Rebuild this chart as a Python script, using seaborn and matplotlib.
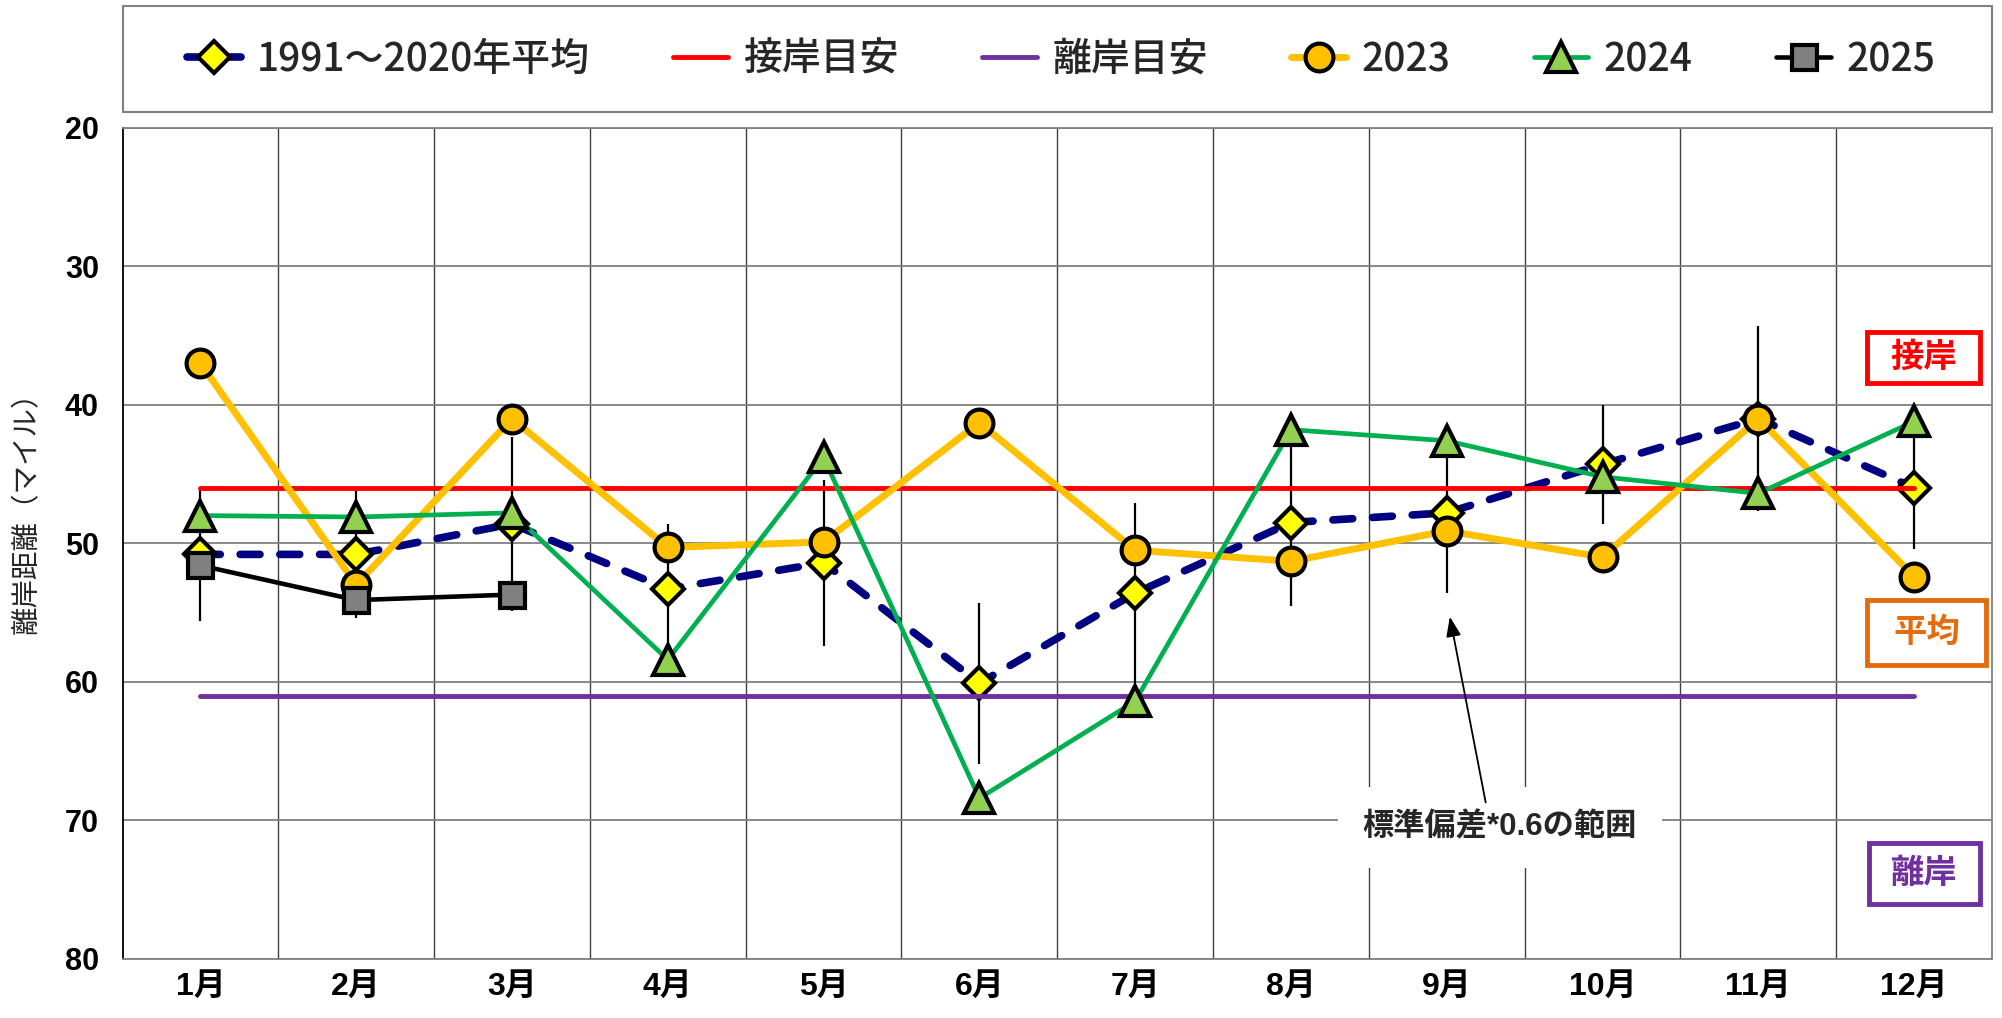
import numpy as np
import pandas as pd
import seaborn as sns
import matplotlib.pyplot as plt
from matplotlib.patches import Rectangle

# Data =========================================================================
months = ["1月", "2月", "3月", "4月", "5月", "6月", "7月", "8月", "9月", "10月", "11月", "12月"]
mean_9120 = [50.8, 50.8, 48.6, 53.3, 51.4, 60.1, 53.6, 48.5, 47.8, 44.3, 41.0, 46.0]
sd06 = [4.8, 4.6, 6.3, 4.7, 6.0, 5.8, 6.5, 6.0, 5.8, 4.3, 6.7, 4.4]  # std * 0.6
y2023 = [37.0, 53.0, 41.0, 50.3, 49.9, 41.3, 50.5, 51.3, 49.1, 51.0, 41.0, 52.4]
y2024 = [48.0, 48.1, 47.8, 58.4, 43.8, 68.4, 61.4, 41.8, 42.6, 45.2, 46.4, 41.2]
y2025 = [51.6, 54.1, 53.7]
ashore_guide = [46.0] * 12
offshore_guide = [61.0] * 12
yticks = [20, 30, 40, 50, 60, 70, 80]

x = np.arange(1, 13)
df = pd.DataFrame({"x": x, "mean": mean_9120, "sd": sd06, "y2023": y2023, "y2024": y2024,
                   "ashore": ashore_guide, "offshore": offshore_guide})
df25 = pd.DataFrame({"x": x[:len(y2025)], "y2025": y2025})

# Style ========================================================================
sns.set_theme(style="white")
plt.rcParams['font.family'] = ['Liberation Sans', 'Noto Sans CJK JP']
jp = 'Noto Sans CJK JP'

fig = plt.figure(figsize=(20.02, 10.18), dpi=100)
ax = fig.add_axes([0.0612, 0.058, 0.9338, 0.8166])

# error bars (std*0.6 range)
ax.errorbar(df["x"], df["mean"], yerr=df["sd"], fmt="none", ecolor="black",
            elinewidth=1.6, capsize=0, zorder=2)

mk = dict(markeredgecolor="black", markeredgewidth=3)
sns.lineplot(data=df, x="x", y="mean", ax=ax, color="#000080", linewidth=5.5,
             linestyle=(0, (2.6, 2.6)), dash_capstyle="round",
             marker="D", markersize=16, markerfacecolor="#FFFF00",
             label="1991～2020年平均", zorder=3, **mk)
sns.lineplot(data=df, x="x", y="ashore", ax=ax, color="#FF0000", linewidth=3.5,
             solid_capstyle="round", label="接岸目安", zorder=4)
sns.lineplot(data=df, x="x", y="offshore", ax=ax, color="#7030A0", linewidth=3.5,
             solid_capstyle="round", label="離岸目安", zorder=4)
sns.lineplot(data=df, x="x", y="y2023", ax=ax, color="#FFC000", linewidth=5,
             marker="o", markersize=20, markerfacecolor="#FFC000",
             label="2023", zorder=5, **mk)
sns.lineplot(data=df, x="x", y="y2024", ax=ax, color="#00B050", linewidth=3.4,
             marker="^", markersize=22, markerfacecolor="#92D050",
             label="2024", zorder=6, **mk)
sns.lineplot(data=df25, x="x", y="y2025", ax=ax, color="black", linewidth=3.3,
             marker="s", markersize=18, markerfacecolor="#808080",
             label="2025", zorder=7, **mk)

# Axes =========================================================================
ax.set_xlim(0.5, 12.5)
ax.set_ylim(80, 20)
ax.set_yticks(yticks)
ax.set_yticklabels([str(v) for v in yticks], fontsize=22, fontweight="bold")
ax.set_xticks(x)
ax.set_xticklabels(months, fontsize=23, fontweight="bold")
ax.set_xticks(np.arange(1.5, 12.5, 1), minor=True)
ax.set_xlabel("")
ax.set_ylabel("")
ax.set_axisbelow(True)
ax.grid(axis="y", which="major", color="#808080", linewidth=1.3)
ax.grid(axis="x", which="minor", color="#404040", linewidth=1.0)
ax.grid(axis="x", which="major", visible=False)
ax.tick_params(axis="x", which="both", length=0, pad=9, colors="black")
ax.tick_params(axis="y", which="major", direction="in", length=6, width=1.3,
               color="#404040", pad=17, labelcolor="black")
for s in ax.spines.values():
    s.set_color("#808080")
    s.set_linewidth(1.3)
ax.spines["left"].set_color("black")

fig.text(27 / 2002, 1 - 506 / 1018, "離岸距離（マイル）", rotation=90,
         ha="center", va="center", fontsize=20.5, family=jp)

# Side labels
side_boxes = [
    ("接岸", "#FF0000", (11.70, 34.75), 0.72, 3.68),
    ("平均", "#E46C0A", (11.70, 54.10), 0.76, 4.70),
    ("離岸", "#7030A0", (11.71, 71.60), 0.71, 4.40),
]
for txt, col, (x0, y0), w, h in side_boxes:
    ax.add_patch(Rectangle((x0, y0), w, h, fill=True, fc="white", ec=col, lw=3.5, zorder=8))
    ax.text(x0 + w / 2, y0 + h / 2, txt, color=col, fontsize=24, fontweight="bold",
            family=jp, ha="center", va="center", zorder=9)

# Annotation
ax.text(9.34, 70.5, "標準偏差*0.6の範囲", fontsize=22.5, fontweight="bold",
        ha="center", va="center", zorder=10,
        bbox=dict(boxstyle="square,pad=0.8", fc="white", ec="none"))
ax.annotate("", xy=(9.02, 55.3), xytext=(9.25, 68.7), zorder=11,
            arrowprops=dict(arrowstyle="-|>,head_length=1.2,head_width=0.45",
                            color="black", lw=1.3, shrinkA=0, shrinkB=0, mutation_scale=10))

# Legend
handles, labels = ax.get_legend_handles_labels()
if ax.get_legend() is not None:
    ax.get_legend().remove()
fig.legend(handles, labels, loc="center", bbox_to_anchor=(0.530, 0.941), ncol=6,
           frameon=False, prop=dict(family=jp, size=28, weight="medium"), handlelength=1.4,
           handletextpad=0.4, columnspacing=2.15)
fig.patches.append(Rectangle((0.0612, 0.8896), 0.9338, 0.1041, transform=fig.transFigure,
                             fill=False, ec="#808080", lw=1.5))

fig.savefig("out.png", dpi=100)
